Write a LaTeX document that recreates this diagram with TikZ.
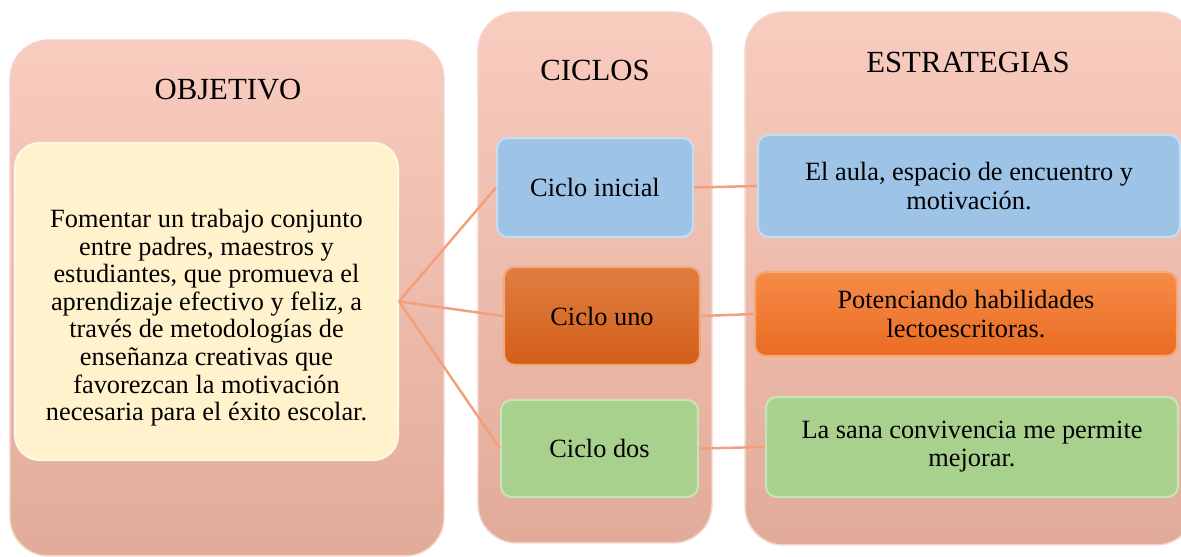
\documentclass[tikz,border=0pt]{standalone}
\usepackage{fontspec}
\setmainfont{Liberation Serif}
\usetikzlibrary{positioning}
\definecolor{panel-top}{HTML}{F8CCBF}
\definecolor{panel-bottom}{HTML}{E2AB99}
\definecolor{panel-edge}{HTML}{F6D3C8}
\definecolor{goal-fill}{HTML}{FFF2CC}
\definecolor{goal-edge}{HTML}{FFF8E4}
\definecolor{cyc-blue}{HTML}{9DC3E6}
\definecolor{blue-edge}{HTML}{C4DDF3}
\definecolor{cyc-orange-top}{HTML}{E07D42}
\definecolor{cyc-orange-bottom}{HTML}{D35F18}
\definecolor{str-orange-top}{HTML}{F58C48}
\definecolor{str-orange-bottom}{HTML}{EB6B22}
\definecolor{orange-edge}{HTML}{F4A878}
\definecolor{cyc-green}{HTML}{A9D18E}
\definecolor{green-edge}{HTML}{C8E4B4}
\definecolor{link}{HTML}{F2A07C}
\tikzset{
  panel/.style={rounded corners=22pt, top color=panel-top, bottom color=panel-bottom,
    draw=panel-edge, line width=0.8pt},
  heading/.style={font=\fontsize{17.5}{20}\selectfont},
  body/.style={font=\fontsize{15}{16}\selectfont, align=center},
  goalbox/.style={body, font=\fontsize{15}{15.7}\selectfont, rounded corners=14pt,
    fill=goal-fill, draw=goal-edge, line width=1.2pt},
  % Coloured boxes of the two right columns
  itembox/.style={body, rounded corners=6pt, line width=1.2pt},
  bluebox/.style={itembox, fill=cyc-blue, draw=blue-edge},
  darkorangebox/.style={itembox, top color=cyc-orange-top, bottom color=cyc-orange-bottom, draw=orange-edge},
  orangebox/.style={itembox, top color=str-orange-top, bottom color=str-orange-bottom, draw=orange-edge},
  greenbox/.style={itembox, fill=cyc-green, draw=green-edge},
  link/.style={draw=link, line width=1.4pt}
}

\begin{document}
\begin{tikzpicture}[x=0.02cm, y=-0.02cm]

  \useasboundingbox (0,0) rectangle (1181,557);

  % ---- Column panels ------------------------------------------------------
  \node[panel, minimum width=8.68cm, minimum height=10.32cm] (objpanel) at (227, 298) {};
  \node[panel, minimum width=4.68cm, minimum height=10.62cm] (cycpanel) at (595, 277.5) {};
  \node[panel, minimum width=9.0cm, minimum height=10.66cm] (strpanel) at (970, 278.5) {};

  % ---- Headings -----------------------------------------------------------
  \node[heading] (objtitle) at (228, 90) {OBJETIVO};
  \node[heading] (cyctitle) at (595, 70) {CICLOS};
  \node[heading] (strtitle) at (968, 62) {ESTRATEGIAS};

  % ---- Objective (text sits a little low in its box) ----------------------
  \node[goalbox, minimum width=7.66cm, minimum height=6.34cm] (goal) at (206.5, 301.5)
        {\rule{0pt}{29pt}Fomentar un trabajo conjunto\\ entre padres, maestros y\\ estudiantes, que promueva el\\
         aprendizaje efectivo y feliz, a\\ través de metodologías de\\ enseñanza creativas que\\
         favorezcan la motivación\\ necesaria para el éxito escolar.};

  % ---- Cycles -------------------------------------------------------------
  \node[bluebox, minimum width=3.92cm, minimum height=1.98cm] (initial) at (595, 187.5) {Ciclo inicial};
  \node[darkorangebox, minimum width=3.92cm, minimum height=1.96cm] (one) at (602, 316) {Ciclo uno};
  \node[greenbox, minimum width=3.94cm, minimum height=1.94cm] (two) at (599.5, 448.5) {Ciclo dos};

  % ---- Strategies ---------------------------------------------------------
  \node[bluebox, minimum width=8.44cm, minimum height=2.04cm] (classroom) at (969, 186)
        {El aula, espacio de encuentro y\\ motivación.};
  \node[orangebox, minimum width=8.44cm, minimum height=1.68cm] (skills) at (966, 314)
        {Potenciando habilidades\\ lectoescritoras.};
  \node[greenbox, minimum width=8.24cm, minimum height=2.0cm] (living) at (972, 447)
        {La sana convivencia me permite\\ mejorar.};

  % ---- Links ----------------------------------------------------------------
  \draw[link] (goal.east) -- (initial.west);
  \draw[link] (goal.east) -- (one.west);
  \draw[link] (goal.east) -- (two.west);
  \draw[link] (initial.east) -- (classroom.west);
  \draw[link] (one.east) -- (skills.west);
  \draw[link] (two.east) -- (living.west);

\end{tikzpicture}
\end{document}
